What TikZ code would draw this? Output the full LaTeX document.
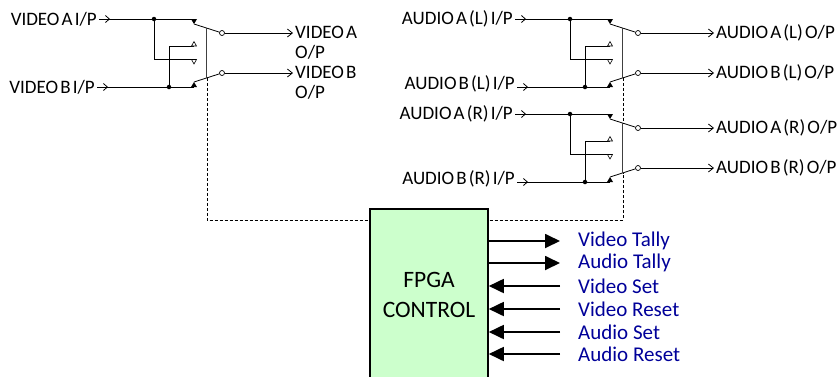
\documentclass[tikz,border=0pt]{standalone}
\usepackage{fontspec}
\setmainfont{Carlito}
\newfontfamily\tightfont{Carlito}[WordSpace=0.5]
\usetikzlibrary{arrows.meta, positioning, calc, decorations.markings}

\definecolor{fpgagreen}{HTML}{CCFFCC}
\definecolor{signalblue}{HTML}{000099}

\newcommand{\lblfont}{\tightfont\fontsize{19}{20}\selectfont}

\begin{document}
\begin{tikzpicture}[x=1pt, y=-1pt,
            wire/.style={line width=0.8pt},
            link/.style={line width=0.8pt, black!75},
            ctrl/.style={line width=0.7pt, dash pattern=on 3pt off 2pt},
            inlbl/.style={font=\lblfont, inner sep=2pt, anchor=east},
            outlbl/.style={font=\lblfont, inner sep=2pt, anchor=west, align=left},
            inwire/.style={wire, postaction={decorate}, decoration={markings, mark=at position 11pt with {\arrow{Straight Barb[length=4pt,width=7pt]}}}},
            outwire/.style={wire, -{Straight Barb[length=5pt,width=8pt]}},
            pivot/.style={circle, draw, fill=white, line width=0.7pt, inner sep=0pt, minimum size=5pt},
            jdot/.style={circle, fill, inner sep=0pt, minimum size=4.5pt},
            fpga/.style={rectangle, draw, line width=1.6pt, fill=fpgagreen, minimum width=118pt, minimum height=172pt, align=center, font=\fontsize{23.5}{30}\selectfont},
            sig/.style={font=\fontsize{21}{22}\selectfont, text=signalblue, inner sep=0pt, anchor=west},
            bus/.style={line width=1.8pt, -{Triangle[length=15pt,width=14pt]}}
        ]

\useasboundingbox (0,0) rectangle (838,376);

% Switch units: name / contact x / top line y
            \foreach \n/\cx/\ty in {v/194/19, l/610/19, r/610/114} {
                \coordinate (\n-a) at (\cx,\ty);
                \coordinate (\n-b) at (\cx,\ty+68);
                \coordinate (\n-ca) at ([yshift=-5pt]\n-a);
                \coordinate (\n-cb) at ([yshift=5pt]\n-b);
                \coordinate (\n-oa) at (\cx,\ty+27);
                \coordinate (\n-ob) at (\cx,\ty+40.5);
                \node[jdot] (\n-ja) at (\cx-40,\ty) {};
                \node[jdot] (\n-jb) at (\cx-25,\ty+68) {};
                \node[pivot] (\n-pa) at (\cx+28,\ty+14) {};
                \node[pivot] (\n-pb) at (\cx+28,\ty+54) {};
                % cross wiring
                \draw[wire] (\n-ja) |- (\n-ob);
                \draw[wire] (\n-jb) |- (\n-oa);
                % contacts
                \fill ([xshift=-3pt]\n-a) -- ([xshift=3pt]\n-a) -- (\n-ca) -- cycle;
                \fill ([xshift=-3pt]\n-b) -- ([xshift=3pt]\n-b) -- (\n-cb) -- cycle;
                \draw[line width=0.6pt, fill=white] ([xshift=-2.5pt]\n-oa) -- ([yshift=4.5pt]\n-oa) -- ([xshift=2.5pt]\n-oa) -- cycle;
                \draw[line width=0.6pt, fill=white] ([xshift=-2.5pt]\n-ob) -- ([yshift=-4.5pt]\n-ob) -- ([xshift=2.5pt]\n-ob) -- cycle;
                % arms
                \draw[wire] (\n-ca) -- (\n-pa);
                \draw[wire] (\n-cb) -- (\n-pb);
                % mechanical link
                \coordinate (\n-lt) at ($(\n-ca)!0.46!(\n-pa)$);
                \coordinate (\n-lb) at ($(\n-cb)!0.46!(\n-pb)$);
                \draw[link] (\n-lt) -- (\n-lb);
            }

% Inputs
            \node[inlbl] (vai) at (99,19) {VIDEO A I/P};
            \node[inlbl] (vbi) at (97,87) {VIDEO B I/P};
            \node[inlbl] (lai) at (515,19) {AUDIO A (L) I/P};
            \node[inlbl] (lbi) at (517,84) {AUDIO B (L) I/P};
            \node[inlbl] (rai) at (515,114) {AUDIO A (R) I/P};
            \node[inlbl] (rbi) at (517,179) {AUDIO B (R) I/P};

            \draw[inwire] (vai.east) -- (v-a);
            \draw[inwire] (vbi.east) -- (v-b);
            \draw[inwire] (lai.east) -- (l-a);
            \draw[inwire] (lbi.east |- l-b) -- (l-b);
            \draw[inwire] (rai.east) -- (r-a);
            \draw[inwire] (rbi.east |- r-b) -- (r-b);

% Outputs
            \node[outlbl, yshift=-10pt] (vao) at (293,33) {VIDEO A\\O/P};
            \node[outlbl, yshift=-10pt] (vbo) at (293,73) {VIDEO B\\O/P};
            \node[outlbl] (lao) at (714,33) {AUDIO A (L) O/P};
            \node[outlbl] (lbo) at (714,73) {AUDIO B (L) O/P};
            \node[outlbl] (rao) at (714,128) {AUDIO A (R) O/P};
            \node[outlbl] (rbo) at (714,168) {AUDIO B (R) O/P};

            \draw[outwire] (v-pa) -- (vao.west |- v-pa);
            \draw[outwire] (v-pb) -- (vbo.west |- v-pb);
            \draw[outwire] (l-pa) -- (lao.west);
            \draw[outwire] (l-pb) -- (lbo.west);
            \draw[outwire] (r-pa) -- (rao.west);
            \draw[outwire] (r-pb) -- (rbo.west);

% Control links
            \draw[ctrl] (v-lb) -- (v-lb |- 0,220) -- (r-lb |- 0,220) -- (r-lb);
            \draw[ctrl] (l-lb) -- (r-lt);

% FPGA
            \node[fpga] (fpga) at (429,295) {FPGA\\CONTROL};

            \node[sig] (vt) at (578,241) {Video Tally};
            \node[sig] (at) at (578,263) {Audio Tally};
            \node[sig] (vs) at (578,286) {Video Set};
            \node[sig] (vr) at (578,309) {Video Reset};
            \node[sig] (as) at (578,332) {Audio Set};
            \node[sig] (ar) at (578,354) {Audio Reset};

            \draw[bus] (fpga.east |- vt) -- ([xshift=-18pt]vt.west);
            \draw[bus] (fpga.east |- at) -- ([xshift=-18pt]at.west);
            \draw[bus] ([xshift=-18pt]vs.west) -- (fpga.east |- vs);
            \draw[bus] ([xshift=-18pt]vr.west) -- (fpga.east |- vr);
            \draw[bus] ([xshift=-18pt]as.west) -- (fpga.east |- as);
            \draw[bus] ([xshift=-18pt]ar.west) -- (fpga.east |- ar);

        \end{tikzpicture}
\end{document}
